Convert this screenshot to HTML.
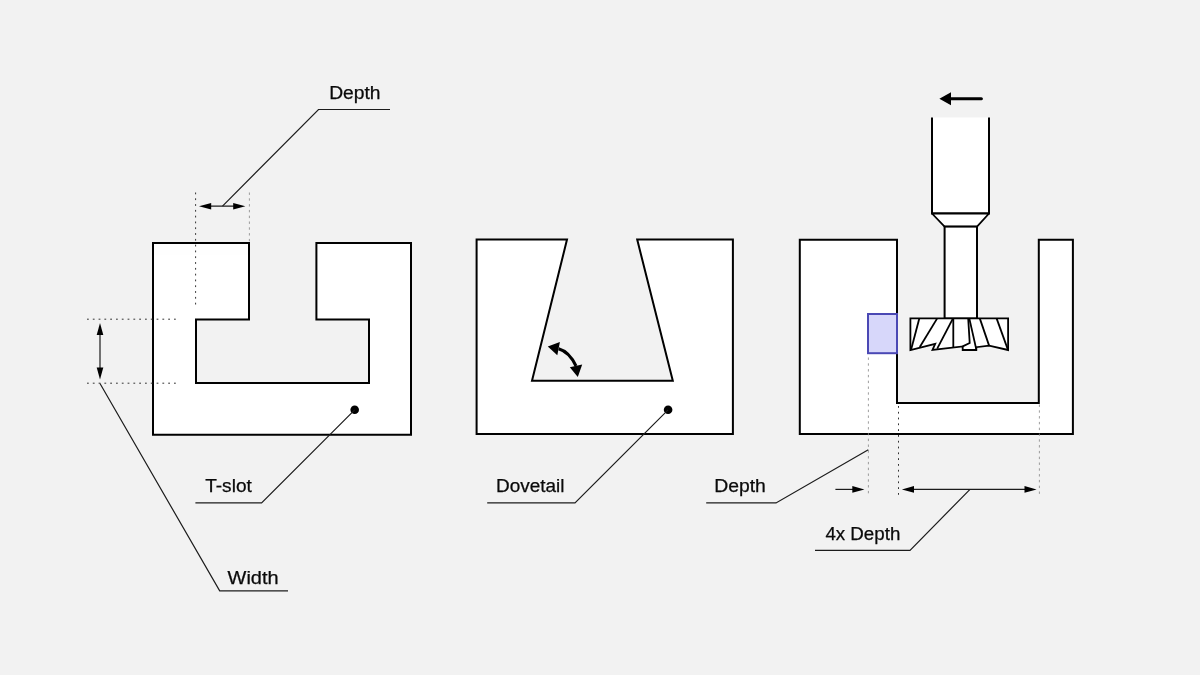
<!DOCTYPE html>
<html lang="en">
<head>
<meta charset="utf-8">
<title>T-slot, Dovetail and Depth diagram</title>
<style>
  html, body { margin: 0; padding: 0; background: #f2f2f2; }
  body { width: 1200px; height: 675px; overflow: hidden; }
  svg { display: block; opacity: 0.999; will-change: transform; }
  text { font-family: "Liberation Sans", sans-serif; font-size: 18px; fill: #0a0a0a; stroke: #0a0a0a; stroke-width: 0.25; }
  .shape { fill: #ffffff; stroke: #000000; stroke-width: 2; stroke-linejoin: miter; }
  .thin { fill: none; stroke: #1c1c1c; stroke-width: 1.2; }
  .under { fill: none; stroke: #3a3a3a; stroke-width: 1.1; }
  .dot { fill: none; stroke: #333333; stroke-width: 1; stroke-dasharray: 1.8 4; }
  .dotl { fill: none; stroke: #858585; stroke-width: 0.8; stroke-dasharray: 2.4 3.4; }
  .head { fill: #000000; stroke: none; }
</style>
</head>
<body>
<svg width="1200" height="675" viewBox="0 0 1200 675">
  <rect x="0" y="0" width="1200" height="675" fill="#f2f2f2"/>

  <!-- ============ Figure 1 : T-slot ============ -->
  <polygon class="shape" points="153,243 249,243 249,319.5 196,319.5 196,383 369,383 369,319.5 316.4,319.5 316.4,243 411,243 411,434.7 153,434.7"/>

  <!-- extension dotted lines -->
  <line class="dot" x1="195.6" y1="192.5" x2="195.6" y2="306"/>
  <line class="dotl" x1="249.4" y1="192.5" x2="249.4" y2="242"/>
  <line class="dot" x1="87" y1="319.2" x2="178" y2="319.2"/>
  <line class="dot" x1="87" y1="383.2" x2="178" y2="383.2"/>

  <!-- depth arrow (top) -->
  <line class="thin" x1="205" y1="206.2" x2="240" y2="206.2"/>
  <polygon class="head" points="199,206.2 211.2,202.9 211.2,209.5"/>
  <polygon class="head" points="245.4,206.2 233.2,202.9 233.2,209.5"/>
  <polyline class="thin" points="222.5,206.2 318.5,109.5 390,109.5"/>
  <text x="329.2" y="98.8" textLength="51.4" lengthAdjust="spacingAndGlyphs">Depth</text>

  <!-- width arrow (left) -->
  <line class="thin" x1="100" y1="330" x2="100" y2="372"/>
  <polygon class="head" points="100,323.1 96.7,335.1 103.3,335.1"/>
  <polygon class="head" points="100,379.4 96.7,367.4 103.3,367.4"/>
  <polyline class="thin" points="100,383.5 219.7,590.9 288,590.9"/>
  <text x="227.6" y="583.8" textLength="51" lengthAdjust="spacingAndGlyphs">Width</text>

  <!-- T-slot label -->
  <circle cx="354.7" cy="409.8" r="4.3" fill="#000"/>
  <polyline class="thin" points="354.7,409.8 261.6,502.9 195.4,502.9"/>
  <text x="205.2" y="492.2" textLength="46.6" lengthAdjust="spacingAndGlyphs">T-slot</text>

  <!-- ============ Figure 2 : Dovetail ============ -->
  <polygon class="shape" points="476.6,239.6 567,239.6 532,380.8 672.8,380.8 637.2,239.6 732.9,239.6 732.9,433.9 476.6,433.9"/>

  <!-- angle arrow -->
  <path d="M558.6,348.7 Q569.4,351.8 576,366" fill="none" stroke="#000" stroke-width="3"/>
  <polygon class="head" points="547.8,346.5 559.9,342.1 557.3,355.3"/>
  <polygon class="head" points="577.8,377.1 569.8,367.2 582.2,364.6"/>

  <circle cx="668.1" cy="409.8" r="4.3" fill="#000"/>
  <polyline class="thin" points="668.1,409.8 575,502.9 487.2,502.9"/>
  <text x="496" y="492.2" textLength="68.4" lengthAdjust="spacingAndGlyphs">Dovetail</text>

  <!-- ============ Figure 3 : cutter ============ -->
  <polygon class="shape" points="799.8,239.8 897,239.8 897,403 1038.8,403 1038.8,239.8 1072.9,239.8 1072.9,433.9 799.8,433.9"/>

  <!-- blue depth box -->
  <rect x="868" y="314" width="29" height="39.2" fill="#d7d7fa" stroke="#4a48b4" stroke-width="2"/>

  <!-- dotted lines -->
  <line class="dotl" x1="868.4" y1="357.5" x2="868.4" y2="494"/>
  <line class="dot" x1="898.5" y1="406" x2="898.5" y2="497.5"/>
  <line class="dotl" x1="1039.4" y1="404.5" x2="1039.4" y2="496.5"/>

  <!-- tool shank -->
  <rect x="932" y="117.5" width="57" height="96" fill="#fff" stroke="none"/>
  <polyline points="932,117.5 932,213.5 989,213.5 989,117.5" fill="none" stroke="#000" stroke-width="2"/>
  <polygon points="932,213.5 989,213.5 977,226.6 944.6,226.6" fill="#fff" stroke="#000" stroke-width="1.8" stroke-linejoin="round"/>
  <rect x="944.6" y="226.6" width="32.4" height="92" fill="#fff" stroke="#000" stroke-width="2"/>

  <!-- cutter head -->
  <g fill="#fff" stroke="#000" stroke-width="1.8" stroke-linejoin="miter">
    <polygon points="910.4,318.4 1008.1,318.4 1008.1,350 989.1,345.6 976.3,347.2 976.3,350 962.7,350 962.7,346.4 932.5,349.9 935.2,343.9 910.4,350"/>
    <g fill="none">
      <line x1="919.3" y1="318.4" x2="911.2" y2="349.2"/>
      <line x1="937.2" y1="318.4" x2="919.8" y2="347"/>
      <line x1="953" y1="318.4" x2="937.2" y2="348.6"/>
      <line x1="953.3" y1="318.4" x2="953.3" y2="347.4"/>
      <polyline points="968.2,318.4 969.7,343 962.7,346.4"/>
      <line x1="969.3" y1="318.4" x2="976.3" y2="349.4"/>
      <line x1="979.8" y1="318.4" x2="989.1" y2="345.6"/>
      <line x1="996.6" y1="318.4" x2="1007.8" y2="349.4"/>
    </g>
  </g>

  <!-- feed arrow -->
  <line x1="950" y1="98.8" x2="981.4" y2="98.8" stroke="#000" stroke-width="3" stroke-linecap="round"/>
  <polygon class="head" points="939.4,98.8 951,92.3 951,105.3"/>

  <!-- depth label -->
  <polyline class="thin" points="868.3,449.8 776,502.9 706.2,502.9"/>
  <text x="714.2" y="492.3" textLength="51.6" lengthAdjust="spacingAndGlyphs">Depth</text>
  <line class="thin" x1="835.4" y1="489.4" x2="858" y2="489.4"/>
  <polygon class="head" points="864.4,489.4 852.3,486.1 852.3,492.7"/>

  <!-- 4x depth -->
  <line class="thin" x1="908" y1="489.4" x2="1030" y2="489.4"/>
  <polygon class="head" points="901.9,489.4 914,486.1 914,492.7"/>
  <polygon class="head" points="1036.6,489.4 1024.5,486.1 1024.5,492.7"/>
  <polyline class="thin" points="970,489.4 910,550.3 815,550.3"/>
  <text x="825.4" y="539.6" textLength="74.9" lengthAdjust="spacingAndGlyphs">4x Depth</text>
</svg>
</body>
</html>
